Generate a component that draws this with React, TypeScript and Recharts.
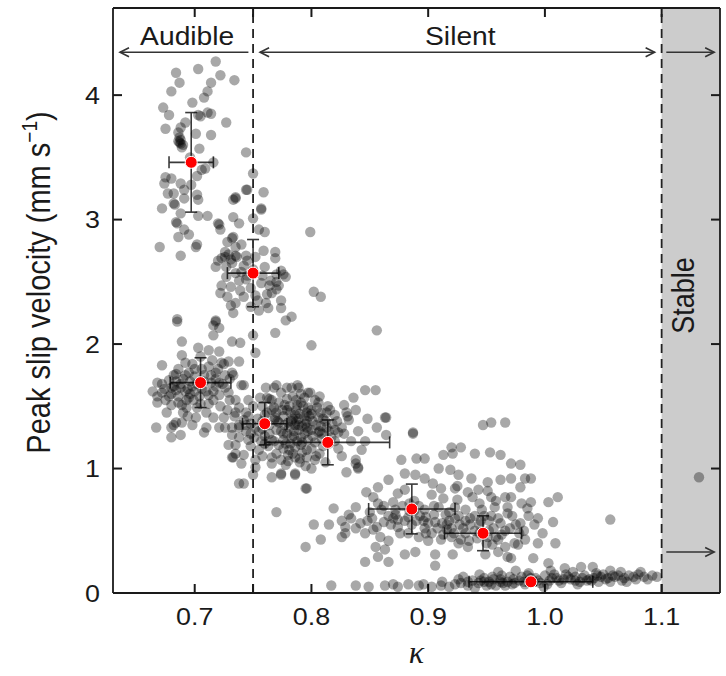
import React from "react";
import {
  ScatterChart,
  Scatter,
  XAxis,
  YAxis,
  ErrorBar,
  ReferenceLine,
  ReferenceArea,
} from "recharts";

type Pt = [number, number];

// individual events, [kappa, peak slip velocity]
const audibleHigh: Pt[] = [
  [0.718, 4.27], [0.703, 4.21], [0.684, 4.18], [0.722, 4.16], [0.734, 4.12], [0.687, 4.10],
  [0.714, 4.10], [0.680, 4.03], [0.711, 4.03], [0.708, 3.98], [0.698, 3.94], [0.673, 3.90],
  [0.678, 3.84], [0.711, 3.86], [0.714, 3.85], [0.705, 3.83], [0.727, 3.78], [0.675, 3.73],
  [0.692, 3.78], [0.701, 3.69], [0.714, 3.68], [0.686, 3.70], [0.688, 3.64], [0.689, 3.58],
  [0.687, 3.66], [0.688, 3.61], [0.690, 3.60], [0.704, 3.57], [0.744, 3.54], [0.750, 3.37],
  [0.675, 3.34], [0.680, 3.33], [0.702, 3.35], [0.709, 3.41], [0.688, 3.29], [0.691, 3.24],
  [0.677, 3.21], [0.702, 3.20], [0.744, 3.24], [0.759, 3.22], [0.735, 3.18], [0.674, 3.29],
  [0.682, 3.21], [0.672, 3.09], [0.682, 3.13], [0.683, 3.12], [0.691, 3.17], [0.697, 3.28],
  [0.703, 3.16], [0.688, 3.05], [0.684, 2.98], [0.685, 2.97], [0.691, 2.92], [0.695, 2.88],
  [0.686, 2.86], [0.702, 2.80], [0.670, 2.78], [0.688, 2.71], [0.703, 3.03], [0.711, 3.03],
  [0.703, 3.84], [0.688, 3.74], [0.706, 3.40], [0.696, 3.50], [0.716, 3.46], [0.686, 3.63],
  [0.687, 3.62],
];

const audibleMid: Pt[] = [
  [0.735, 3.17], [0.757, 3.08], [0.733, 3.02], [0.750, 3.01], [0.720, 2.97], [0.738, 2.97],
  [0.755, 2.92], [0.760, 2.90], [0.722, 2.92], [0.732, 2.85], [0.733, 2.86], [0.799, 2.90],
  [0.735, 2.78], [0.759, 2.75], [0.769, 2.74], [0.726, 2.74], [0.723, 2.69], [0.720, 2.67],
  [0.735, 2.71], [0.736, 2.70], [0.744, 2.71], [0.718, 2.62], [0.769, 2.69], [0.774, 2.59],
  [0.778, 2.54], [0.776, 2.56], [0.735, 2.57], [0.738, 2.51], [0.727, 2.54], [0.723, 2.47],
  [0.731, 2.46], [0.739, 2.43], [0.757, 2.49], [0.765, 2.51], [0.766, 2.41], [0.722, 2.41],
  [0.752, 2.39], [0.761, 2.33], [0.774, 2.35], [0.735, 2.33], [0.731, 2.31], [0.755, 2.27],
  [0.733, 2.25], [0.763, 2.29], [0.774, 2.29], [0.783, 2.22], [0.778, 2.19], [0.802, 2.42],
  [0.808, 2.38], [0.685, 2.20], [0.718, 2.19], [0.716, 2.15], [0.701, 2.78], [0.721, 2.96],
  [0.745, 3.24], [0.757, 3.09], [0.733, 3.16], [0.750, 2.60], [0.745, 2.55], [0.742, 2.63],
  [0.760, 2.62], [0.748, 2.45], [0.856, 2.11], [0.727, 2.62], [0.732, 2.65], [0.740, 2.58],
  [0.745, 2.67], [0.752, 2.70], [0.758, 2.55], [0.764, 2.47], [0.770, 2.44], [0.742, 2.38],
  [0.748, 2.30], [0.754, 2.35], [0.728, 2.38], [0.762, 2.40], [0.770, 2.56], [0.740, 2.80],
  [0.728, 2.82], [0.726, 2.70], [0.729, 2.72], [0.731, 2.68], [0.744, 2.52], [0.770, 2.50],
  [0.772, 2.47],
];

const audibleLow: Pt[] = [
  [0.685, 2.18], [0.718, 2.18], [0.721, 2.13], [0.716, 2.07], [0.750, 2.07], [0.769, 2.09],
  [0.800, 1.99], [0.689, 2.02], [0.732, 2.02], [0.739, 2.01], [0.703, 1.97], [0.712, 1.95],
  [0.721, 1.94], [0.752, 1.93], [0.672, 1.83], [0.689, 1.91], [0.692, 1.85], [0.715, 1.87],
  [0.723, 1.85], [0.729, 1.86], [0.725, 1.84], [0.738, 1.86], [0.682, 1.75], [0.695, 1.77],
  [0.684, 1.76], [0.718, 1.77], [0.726, 1.75], [0.732, 1.77], [0.668, 1.69], [0.678, 1.71],
  [0.680, 1.65], [0.684, 1.63], [0.688, 1.65], [0.682, 1.66], [0.714, 1.69], [0.721, 1.69],
  [0.742, 1.67], [0.672, 1.61], [0.675, 1.55], [0.695, 1.57], [0.699, 1.55], [0.712, 1.59],
  [0.721, 1.59], [0.729, 1.61], [0.735, 1.55], [0.668, 1.53], [0.680, 1.51], [0.689, 1.51],
  [0.693, 1.49], [0.702, 1.49], [0.716, 1.41], [0.725, 1.41], [0.701, 1.41], [0.680, 1.33],
  [0.684, 1.37], [0.682, 1.35], [0.667, 1.33], [0.689, 1.37], [0.680, 1.25], [0.688, 1.27],
  [0.708, 1.29], [0.710, 1.33], [0.721, 1.33], [0.726, 1.33], [0.732, 1.33], [0.708, 1.75],
  [0.700, 1.62], [0.712, 1.52], [0.690, 1.45], [0.676, 1.45], [0.705, 1.90], [0.726, 1.65],
  [0.690, 1.72], [0.696, 1.70], [0.700, 1.74], [0.706, 1.80], [0.712, 1.82], [0.718, 1.72],
  [0.724, 1.68], [0.730, 1.72], [0.686, 1.58], [0.692, 1.62], [0.698, 1.66], [0.704, 1.58],
  [0.710, 1.62], [0.716, 1.55], [0.722, 1.50], [0.728, 1.47], [0.734, 1.42], [0.694, 1.42],
  [0.698, 1.35], [0.678, 1.58], [0.672, 1.68], [0.664, 1.62], [0.686, 1.80], [0.698, 1.84],
  [0.716, 1.62], [0.688, 1.68], [0.694, 1.64], [0.702, 1.68], [0.708, 1.70], [0.714, 1.75],
  [0.720, 1.80], [0.706, 1.64], [0.693, 1.55], [0.686, 1.53], [0.680, 1.60], [0.674, 1.64],
  [0.668, 1.58], [0.705, 1.52], [0.718, 1.66], [0.710, 1.45], [0.700, 1.80], [0.692, 1.75],
  [0.684, 1.70], [0.730, 1.55], [0.696, 1.60],
];

const silentHigh: Pt[] = [
  [0.733, 1.75], [0.740, 1.67], [0.768, 1.65], [0.774, 1.61], [0.783, 1.65], [0.789, 1.65],
  [0.797, 1.61], [0.846, 1.63], [0.855, 1.63], [0.756, 1.57], [0.766, 1.55], [0.764, 1.56],
  [0.791, 1.53], [0.806, 1.53], [0.746, 1.55], [0.779, 1.47], [0.787, 1.47], [0.796, 1.45],
  [0.786, 1.43], [0.790, 1.44], [0.816, 1.47], [0.830, 1.45], [0.832, 1.39], [0.831, 1.42],
  [0.863, 1.41], [0.735, 1.45], [0.738, 1.35], [0.769, 1.41], [0.772, 1.37], [0.780, 1.37],
  [0.789, 1.35], [0.796, 1.33], [0.800, 1.31], [0.792, 1.34], [0.785, 1.30], [0.826, 1.33],
  [0.823, 1.29], [0.738, 1.25], [0.746, 1.23], [0.766, 1.23], [0.772, 1.19], [0.778, 1.20],
  [0.786, 1.17], [0.791, 1.19], [0.788, 1.22], [0.823, 1.16], [0.843, 1.15], [0.887, 1.29],
  [0.733, 1.09], [0.742, 1.11], [0.766, 1.09], [0.774, 1.07], [0.780, 1.11], [0.786, 1.09],
  [0.796, 1.09], [0.803, 1.07], [0.838, 1.07], [0.840, 1.01], [0.830, 0.97], [0.752, 1.01],
  [0.750, 0.95], [0.766, 0.93], [0.774, 0.95], [0.786, 0.95], [0.738, 0.88], [0.742, 0.88],
  [0.796, 0.84], [0.770, 0.65], [0.738, 1.49], [0.744, 1.45], [0.742, 1.39], [0.738, 1.33],
  [0.732, 1.27], [0.735, 1.19], [0.729, 1.19], [0.735, 1.12], [0.732, 1.09], [0.740, 1.04],
  [0.752, 1.07], [0.766, 1.04], [0.774, 0.96], [0.786, 0.96], [0.761, 1.65], [0.770, 1.67],
  [0.779, 1.65], [0.788, 1.67], [0.799, 1.61], [0.762, 1.57], [0.768, 1.49], [0.777, 1.51],
  [0.788, 1.51], [0.797, 1.49], [0.805, 1.49], [0.797, 1.23], [0.806, 1.29], [0.815, 1.20],
  [0.755, 1.30], [0.760, 1.43], [0.750, 1.50], [0.810, 1.40], [0.818, 1.36], [0.807, 1.12],
  [0.755, 1.15], [0.776, 1.28], [0.784, 1.40], [0.796, 1.38], [0.808, 1.34], [0.820, 1.43],
  [0.828, 1.51], [0.836, 1.57], [0.856, 1.33], [0.846, 1.22], [0.864, 1.27], [0.795, 1.02],
  [0.770, 1.45], [0.776, 1.42], [0.782, 1.45], [0.794, 1.42], [0.800, 1.44], [0.806, 1.41],
  [0.812, 1.38], [0.781, 1.33], [0.789, 1.31], [0.794, 1.28], [0.801, 1.26], [0.809, 1.24],
  [0.783, 1.25], [0.776, 1.23], [0.770, 1.31], [0.764, 1.35], [0.758, 1.38], [0.752, 1.33],
  [0.748, 1.28], [0.757, 1.22], [0.763, 1.18], [0.781, 1.15], [0.792, 1.13], [0.800, 1.16],
  [0.810, 1.18], [0.817, 1.25], [0.820, 1.31], [0.813, 1.45], [0.803, 1.55], [0.794, 1.57],
  [0.784, 1.58], [0.772, 1.53], [0.758, 1.50], [0.746, 1.42], [0.744, 1.35], [0.748, 1.18],
  [0.758, 1.10], [0.778, 1.03], [0.790, 1.05], [0.800, 1.00], [0.812, 1.05], [0.826, 1.10],
  [0.834, 1.22], [0.840, 1.30], [0.848, 1.40], [0.838, 1.47], [0.760, 1.26], [0.787, 1.38],
  [0.804, 1.35], [0.792, 1.21], [0.771, 1.38], [0.777, 1.35], [0.783, 1.38], [0.789, 1.40],
  [0.795, 1.36], [0.801, 1.38], [0.807, 1.30], [0.813, 1.33], [0.779, 1.28], [0.785, 1.26],
  [0.791, 1.25], [0.797, 1.30], [0.803, 1.21], [0.809, 1.28], [0.815, 1.30], [0.782, 1.20],
  [0.776, 1.16], [0.770, 1.12], [0.764, 1.28], [0.768, 1.22], [0.784, 1.12], [0.796, 1.15],
  [0.804, 1.10], [0.790, 1.08], [0.780, 1.06], [0.762, 1.45], [0.768, 1.39], [0.775, 1.47],
  [0.781, 1.50], [0.787, 1.55], [0.793, 1.50], [0.800, 1.47], [0.808, 1.45], [0.814, 1.50],
  [0.822, 1.38], [0.828, 1.28], [0.820, 1.22], [0.798, 1.42], [0.786, 1.35], [0.774, 1.30],
  [0.760, 1.20], [0.754, 1.40], [0.748, 1.36], [0.744, 1.30], [0.751, 1.25], [0.758, 1.32],
  [0.766, 1.47], [0.791, 1.60], [0.779, 1.56], [0.807, 1.58],
];

const silentMid: Pt[] = [
  [0.864, 1.41], [0.887, 1.28], [0.947, 1.35], [0.954, 1.37], [0.966, 1.37], [0.920, 1.17],
  [0.928, 1.17], [0.913, 1.11], [0.921, 1.12], [0.940, 1.12], [0.953, 1.13], [0.962, 1.11],
  [0.971, 1.04], [0.979, 1.03], [0.877, 1.07], [0.890, 1.08], [0.897, 1.08], [0.838, 1.04],
  [0.840, 1.00], [0.909, 1.00], [0.919, 0.99], [0.926, 0.95], [0.880, 0.96], [0.889, 0.95],
  [0.937, 0.92], [0.951, 0.89], [0.962, 0.91], [0.866, 0.91], [0.857, 0.85], [0.897, 0.92],
  [0.904, 0.88], [0.911, 0.84], [0.923, 0.84], [0.971, 0.92], [0.979, 0.85], [0.983, 0.92],
  [0.988, 0.92], [0.795, 0.84], [0.847, 0.81], [0.853, 0.77], [0.874, 0.80], [0.880, 0.83],
  [0.934, 0.81], [0.943, 0.83], [0.954, 0.77], [0.966, 0.77], [0.819, 0.68], [0.838, 0.69],
  [0.832, 0.63], [0.857, 0.72], [0.860, 0.67], [0.872, 0.67], [0.874, 0.59], [0.883, 0.61],
  [0.897, 0.67], [0.909, 0.69], [0.915, 0.63], [0.923, 0.69], [0.932, 0.67], [0.957, 0.69],
  [0.968, 0.69], [0.980, 0.72], [0.802, 0.55], [0.815, 0.55], [0.829, 0.53], [0.838, 0.52],
  [0.846, 0.48], [0.853, 0.51], [0.859, 0.45], [0.874, 0.53], [0.883, 0.48], [0.892, 0.45],
  [0.903, 0.48], [0.911, 0.43], [0.920, 0.45], [0.928, 0.43], [0.934, 0.37], [0.951, 0.45],
  [0.960, 0.43], [0.966, 0.37], [0.974, 0.40], [0.983, 0.43], [0.795, 0.37], [0.808, 0.43],
  [0.826, 0.45], [0.829, 0.48], [0.855, 0.37], [0.863, 0.35], [0.857, 0.29], [0.866, 0.25],
  [0.889, 0.33], [0.880, 0.31], [0.846, 0.25], [0.906, 0.31], [0.906, 0.22], [0.921, 0.31],
  [0.949, 0.31], [0.960, 0.33], [0.968, 0.29], [0.971, 0.77], [0.988, 0.73], [1.003, 0.73],
  [1.011, 0.77], [1.056, 0.59], [1.007, 0.57], [0.991, 0.55], [0.979, 0.56], [0.968, 0.64],
  [0.985, 0.68], [0.994, 0.40], [1.009, 0.40], [0.977, 0.39], [0.971, 0.28], [0.990, 0.28],
  [1.003, 0.24], [0.936, 0.60], [0.944, 0.55], [0.952, 0.58], [0.927, 0.55], [0.918, 0.58],
  [0.900, 0.56], [0.893, 0.62], [0.868, 0.55], [0.866, 0.62], [0.848, 0.58], [0.940, 0.50],
  [0.956, 0.52], [0.932, 0.48], [0.916, 0.51], [0.897, 0.52], [0.978, 0.48], [0.998, 0.48],
  [0.944, 0.72], [0.948, 0.62], [0.925, 0.75], [0.913, 0.76], [0.888, 0.74], [0.903, 0.79],
  [0.862, 0.70], [0.870, 0.73], [0.878, 0.70], [0.884, 0.66], [0.892, 0.70], [0.898, 0.61],
  [0.905, 0.63], [0.912, 0.56], [0.920, 0.52], [0.926, 0.62], [0.932, 0.58], [0.940, 0.62],
  [0.946, 0.67], [0.954, 0.62], [0.962, 0.56], [0.970, 0.52], [0.963, 0.47], [0.950, 0.40],
  [0.942, 0.44], [0.926, 0.40], [0.913, 0.47], [0.900, 0.42], [0.886, 0.55], [0.876, 0.48],
  [0.866, 0.42], [0.852, 0.60], [0.842, 0.56], [0.834, 0.60], [0.826, 0.58], [0.972, 0.62],
  [0.986, 0.62], [0.994, 0.60], [0.958, 0.74], [0.938, 0.77], [0.925, 0.86], [0.951, 0.82],
  [0.872, 0.63], [0.880, 0.58], [0.888, 0.66], [0.896, 0.58], [0.906, 0.57], [0.916, 0.55],
  [0.923, 0.60], [0.930, 0.52], [0.936, 0.55], [0.944, 0.48], [0.952, 0.50], [0.958, 0.45],
  [0.966, 0.50], [0.975, 0.55], [0.982, 0.50], [0.960, 0.60], [0.945, 0.58], [0.918, 0.65],
  [0.905, 0.70], [0.884, 0.72], [0.870, 0.60], [0.862, 0.57], [0.856, 0.53], [0.850, 0.65],
  [0.908, 0.52], [0.898, 0.48], [0.922, 0.48], [0.935, 0.42], [0.955, 0.39], [0.890, 0.58],
];

const silentLow: Pt[] = [
  [0.817, 0.06], [0.838, 0.06], [0.849, 0.05], [0.863, 0.06], [0.874, 0.05], [0.883, 0.07],
  [0.892, 0.06], [0.903, 0.05], [0.911, 0.06], [0.923, 0.07], [0.934, 0.06], [0.943, 0.08],
  [0.954, 0.07], [0.966, 0.06], [0.974, 0.08], [0.983, 0.07], [0.870, 0.07], [0.896, 0.07],
  [0.918, 0.05], [0.928, 0.08], [0.938, 0.10], [0.948, 0.12], [0.952, 0.09], [0.958, 0.06],
  [0.962, 0.11], [0.970, 0.13], [0.978, 0.10], [0.992, 0.12], [0.996, 0.08], [1.000, 0.14],
  [1.004, 0.10], [1.010, 0.12], [1.014, 0.08], [1.018, 0.15], [1.022, 0.11], [1.026, 0.13],
  [1.030, 0.09], [1.034, 0.14], [1.038, 0.11], [1.042, 0.12], [1.046, 0.09], [1.050, 0.15],
  [1.054, 0.12], [1.060, 0.13], [1.066, 0.10], [1.072, 0.14], [1.078, 0.11], [1.085, 0.13],
  [1.092, 0.14], [1.017, 0.20], [1.031, 0.21], [1.041, 0.21], [1.056, 0.18], [1.065, 0.17],
  [1.082, 0.17], [0.944, 0.15], [0.960, 0.17], [0.975, 0.18], [0.986, 0.16], [1.005, 0.18],
  [0.955, 0.13], [0.968, 0.09], [0.985, 0.14], [1.044, 0.16], [1.024, 0.17], [0.930, 0.13],
  [0.940, 0.04], [0.999, 0.05], [0.945, 0.10], [0.950, 0.06], [0.963, 0.14], [0.972, 0.07],
  [0.980, 0.13], [0.990, 0.09], [1.002, 0.07], [1.008, 0.15], [1.016, 0.11], [1.028, 0.07],
  [1.036, 0.10], [1.048, 0.13], [1.056, 0.09], [1.063, 0.14], [1.070, 0.09], [1.088, 0.11],
  [1.096, 0.13], [0.934, 0.09], [0.926, 0.11], [0.912, 0.09], [0.948, 0.09], [0.956, 0.11],
  [0.964, 0.08], [0.973, 0.11], [0.982, 0.09], [0.994, 0.10], [1.006, 0.12], [1.012, 0.10],
  [1.020, 0.13], [1.032, 0.12], [1.040, 0.10], [1.052, 0.11], [1.058, 0.14], [1.068, 0.12],
  [1.076, 0.13], [0.962, 0.09], [0.988, 0.12], [1.026, 0.10], [1.045, 0.14], [1.080, 0.15],
];

const stable: Pt[] = [[1.132, 0.93]];

// binned means with standard deviations
const meanKappa = [0.697, 0.75, 0.705, 0.76, 0.814, 0.886, 0.947, 0.988];
const meanVel = [3.46, 2.57, 1.69, 1.36, 1.21, 0.675, 0.48, 0.09];
const errKappa = [0.019, 0.022, 0.026, 0.019, 0.053, 0.037, 0.033, 0.053];
const errVel = [0.4, 0.27, 0.2, 0.17, 0.18, 0.2, 0.14, 0.03];

const X_TICKS = [0.7, 0.75, 0.8, 0.9, 1.0, 1.1];
const Y_TICKS = [0, 1, 2, 3, 4];
const K_DOMAIN: [number, number] = [0.63, 1.15];
const V_DOMAIN: [number, number] = [0, 4.7];
const AUDIBLE_LIMIT = 0.75;
const STABLE_LIMIT = 1.1;

const arrows = [
  { label: "Audible", from: 0.746, to: 0.636, y: 4.345, both: false },
  { label: "Silent", from: 0.756, to: 1.094, y: 4.345, both: true },
  { label: "", from: 1.104, to: 1.145, y: 4.345, both: false },
  { label: "", from: 1.104, to: 1.145, y: 0.33, both: false },
];

const FONT = "'Liberation Sans', Arial, Helvetica, sans-serif";
const INK = "#1a1a1a";
const TICK_LEN = 9;

const cloud = [...audibleHigh, ...audibleMid, ...audibleLow, ...silentHigh, ...silentMid, ...silentLow, ...stable].map(
  ([k, v]) => ({ k, v })
);
const means = meanKappa.map((k, i) => ({ k, v: meanVel[i], ek: errKappa[i], ev: errVel[i] }));

// inward tick marks on each side of the box, one series per side
const bottomTicks = X_TICKS.map((t) => ({ k: t, v: V_DOMAIN[0] }));
const topTicks = X_TICKS.map((t) => ({ k: t, v: V_DOMAIN[1] }));
const leftTicks = Y_TICKS.map((t) => ({ k: K_DOMAIN[0], v: t }));
const rightTicks = Y_TICKS.map((t) => ({ k: K_DOMAIN[1], v: t }));

const tickMark = (dx: number, dy: number) => (p: any) =>
  (
    <path
      d={`M${p.cx},${p.cy}L${p.cx + dx},${p.cy + dy}`}
      stroke={INK}
      strokeWidth={2}
      fill="none"
    />
  );

const GrayDot = (p: any) => <circle cx={p.cx} cy={p.cy} r={5.2} fill="#000" fillOpacity={0.34} />;
const RedDot = (p: any) => <circle cx={p.cx} cy={p.cy} r={6} fill="#ff0000" stroke="#fff" strokeWidth={1} />;

function arrowShape(label: string, both: boolean) {
  return (p: any) => {
    const { x1, y1, x2, y2 } = p;
    const dir = x2 > x1 ? 1 : -1;
    const head = (tx: number, d: number) => (
      <polyline
        points={`${tx - d * 9},${y2 - 4.5} ${tx},${y2} ${tx - d * 9},${y2 + 4.5}`}
        fill="none"
        stroke="#333"
        strokeWidth={1.6}
      />
    );
    return (
      <g>
        <line x1={x1} y1={y1} x2={x2} y2={y2} stroke="#333" strokeWidth={1.6} />
        {head(x2, dir)}
        {both && head(x1, -dir)}
        {label && (
          <text
            transform={`translate(${(x1 + x2) / 2 + 3},${y1 - 7}) scale(1.13,1)`}
            textAnchor="middle"
            fontSize={25}
            fontFamily={FONT}
            fill={INK}
          >
            {label}
          </text>
        )}
      </g>
    );
  };
}

const XTick = (p: any) =>
  p.payload.value === AUDIBLE_LIMIT ? (
    <g />
  ) : (
    <text
      transform={`translate(${p.x},${p.y}) scale(1.12,1)`}
      textAnchor="middle"
      dy="0.72em"
      fontSize={24}
      fontFamily={FONT}
      fill={INK}
    >
      {Number(p.payload.value).toFixed(1)}
    </text>
  );

const YTick = (p: any) => (
  <text
    transform={`translate(${p.x},${p.y}) scale(1.12,1)`}
    textAnchor="end"
    dy="0.36em"
    fontSize={24}
    fontFamily={FONT}
    fill={INK}
  >
    {p.payload.value}
  </text>
);

const YLabel = (p: any) => {
  const vb = p.viewBox;
  return (
    <text
      transform={`translate(${vb.x + 50},${vb.y + vb.height / 2 - 18}) scale(1.15,1) rotate(-90)`}
      textAnchor="middle"
      fontSize={29}
      fontFamily={FONT}
      fill={INK}
    >
      Peak slip velocity (mm s
      <tspan dy={-11} fontSize={19}>
        −1
      </tspan>
      <tspan dy={11}>)</tspan>
    </text>
  );
};

const XLabel = (p: any) => {
  const vb = p.viewBox;
  return (
    <text
      x={vb.x + vb.width / 2}
      y={vb.y + 70}
      textAnchor="middle"
      fontSize={32}
      fontStyle="italic"
      fontFamily="'Liberation Serif', 'DejaVu Serif', serif"
      fill={INK}
    >
      κ
    </text>
  );
};

const StableLabel = (p: any) => {
  const vb = p.viewBox;
  return (
    <text
      transform={`translate(${vb.x + 32},${vb.y + vb.height / 2 - 5}) scale(1.15,1) rotate(-90)`}
      textAnchor="middle"
      fontSize={27}
      fontFamily={FONT}
      fill={INK}
    >
      Stable
    </text>
  );
};

export default function App() {
  return (
    <div style={{ position: "absolute", left: 0, top: 0, width: 726, height: 676, background: "#fff" }}>
      <ScatterChart width={726} height={676} margin={{ top: 7, right: 5, bottom: 0, left: 0 }}>
        <XAxis
          xAxisId="b"
          type="number"
          dataKey="k"
          domain={K_DOMAIN}
          allowDataOverflow
          ticks={X_TICKS}
          height={83}
          tickSize={0}
          tickLine={false}
          tickMargin={15}
          tick={XTick}
          stroke={INK}
          strokeWidth={1.8}
          label={XLabel}
        />
        <XAxis
          xAxisId="t"
          orientation="top"
          type="number"
          domain={K_DOMAIN}
          allowDataOverflow
          ticks={X_TICKS}
          height={1}
          tickLine={false}
          tick={false}
          stroke={INK}
          strokeWidth={1.8}
        />
        <YAxis
          yAxisId="l"
          type="number"
          dataKey="v"
          domain={V_DOMAIN}
          allowDataOverflow
          ticks={Y_TICKS}
          width={113}
          tickSize={0}
          tickLine={false}
          tickMargin={13}
          tick={YTick}
          stroke={INK}
          strokeWidth={1.8}
          label={YLabel}
        />
        <YAxis
          yAxisId="r"
          orientation="right"
          type="number"
          domain={V_DOMAIN}
          allowDataOverflow
          ticks={Y_TICKS}
          width={1}
          tickLine={false}
          tick={false}
          stroke={INK}
          strokeWidth={1.8}
        />
        <ReferenceArea
          xAxisId="b"
          yAxisId="l"
          x1={STABLE_LIMIT}
          x2={K_DOMAIN[1]}
          y1={V_DOMAIN[0]}
          y2={V_DOMAIN[1]}
          fill="#cccccc"
          fillOpacity={1}
          stroke="none"
          label={StableLabel}
        />
        <ReferenceLine xAxisId="b" yAxisId="l" x={AUDIBLE_LIMIT} stroke="#222" strokeWidth={1.8} strokeDasharray="9 6" />
        <ReferenceLine xAxisId="b" yAxisId="l" x={STABLE_LIMIT} stroke="#222" strokeWidth={1.8} strokeDasharray="9 6" />
        {arrows.map((a, i) => (
          <ReferenceLine
            key={i}
            xAxisId="b"
            yAxisId="l"
            segment={[
              { x: a.from, y: a.y },
              { x: a.to, y: a.y },
            ]}
            shape={arrowShape(a.label, a.both)}
          />
        ))}
        <Scatter xAxisId="b" yAxisId="l" data={bottomTicks} shape={tickMark(0, -TICK_LEN)} isAnimationActive={false} />
        <Scatter xAxisId="b" yAxisId="l" data={topTicks} shape={tickMark(0, TICK_LEN)} isAnimationActive={false} />
        <Scatter xAxisId="b" yAxisId="l" data={leftTicks} shape={tickMark(TICK_LEN, 0)} isAnimationActive={false} />
        <Scatter xAxisId="b" yAxisId="l" data={rightTicks} shape={tickMark(-TICK_LEN, 0)} isAnimationActive={false} />
        <Scatter xAxisId="b" yAxisId="l" data={cloud} shape={GrayDot} isAnimationActive={false} />
        <Scatter xAxisId="b" yAxisId="l" data={means} shape={RedDot} isAnimationActive={false}>
          <ErrorBar dataKey="ek" direction="x" width={6} stroke="#3a3a3a" strokeWidth={1.6} />
          <ErrorBar dataKey="ev" direction="y" width={6} stroke="#3a3a3a" strokeWidth={1.6} />
        </Scatter>
      </ScatterChart>
    </div>
  );
}
